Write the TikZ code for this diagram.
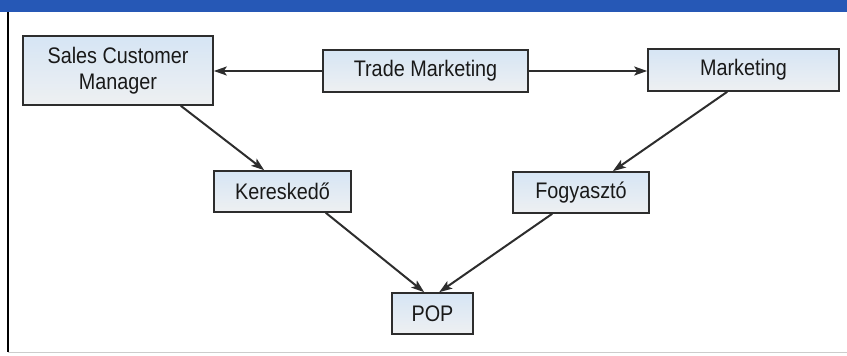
\documentclass[tikz,border=0pt]{standalone}
\usepackage{fontspec}
\setmainfont{Liberation Sans}[FakeStretch=0.88]
\usetikzlibrary{arrows.meta,calc}
\definecolor{barblue}{RGB}{38,88,182}
\definecolor{boxtop}{RGB}{214,229,244}
\definecolor{boxbot}{RGB}{238,240,242}
\definecolor{linegray}{RGB}{45,45,45}
\tikzset{
  box/.style={draw=linegray, line width=1.6pt, top color=boxtop, bottom color=boxbot,
    inner sep=0pt, font=\fontsize{22.5}{25.5}\selectfont, text=black!90, align=center},
  conn/.style={draw=linegray, line width=2pt,
    -{Stealth[length=13pt,width=9pt,inset=3pt]}}
}
\begin{document}
\begin{tikzpicture}[x=1pt,y=-1pt]
\useasboundingbox (0,0) rectangle (847,356);
% frame
\fill[barblue] (0,0) rectangle (847,12);
\draw[black, line width=1.6pt] (8,12) -- (8,352);
\draw[gray!40, line width=0.8pt] (8,352) -- (847,352);
% nodes
\node[box, minimum width=190pt, minimum height=69pt] (scm) at (118,70.5) {Sales Customer\\Manager};
\node[box, minimum width=205pt, minimum height=42pt] (trade) at (425.5,71) {Trade Marketing};
\node[box, minimum width=191pt, minimum height=42pt] (mkt) at (743.5,70) {Marketing};
\node[box, minimum width=137pt, minimum height=41pt] (ker) at (282.5,191.5) {Kereskedő};
\node[box, minimum width=136pt, minimum height=41pt] (fog) at (581,192.5) {Fogyasztó};
\node[box, minimum width=81pt, minimum height=41pt] (pop) at (432.5,313.5) {POP};
% connectors
\draw[conn] (trade.west) -- (trade.west -| scm.east);
\draw[conn] (trade.east) -- (trade.east -| mkt.west);
\draw[conn] ([xshift=-33pt]scm.south east) -- ([xshift=51pt]ker.north west);
\draw[conn] ([xshift=80pt]mkt.south west) -- ([xshift=-37pt]fog.north east);
\draw[conn] ([xshift=-26pt]ker.south east) -- ([xshift=33pt]pop.north west);
\draw[conn] ([xshift=40pt]fog.south west) -- ([xshift=48pt]pop.north west);
\end{tikzpicture}
\end{document}
